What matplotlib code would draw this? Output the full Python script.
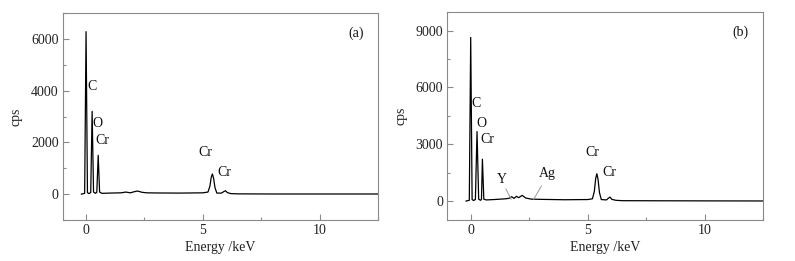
import matplotlib
matplotlib.use("Agg")
import matplotlib.pyplot as plt
from matplotlib.ticker import MultipleLocator

plt.rcParams['font.family'] = ['Liberation Serif', 'DejaVu Serif']

# Panel (a) spectrum
energy_a = [-0.2, -0.06, 0.0, 0.06, 0.12, 0.2, 0.26, 0.32, 0.4, 0.46, 0.52, 0.58, 0.68,
            1.0, 1.5, 1.7, 1.9, 2.05, 2.2, 2.4, 2.6, 3.0, 4.0, 5.0, 5.22, 5.3, 5.36, 5.41,
            5.46, 5.52, 5.6, 5.8, 5.9, 5.97, 6.05, 6.2, 6.5, 8.0, 10.0, 12.5]
cps_a = [0, 30, 6280, 60, 20, 60, 3200, 80, 30, 70, 1500, 80, 30,
         40, 50, 80, 50, 90, 120, 70, 50, 45, 40, 50, 80, 300, 650, 780,
         620, 250, 40, 40, 100, 130, 60, 20, 10, 5, 5, 5]

# Panel (b) spectrum
energy_b = [-0.2, -0.06, 0.0, 0.06, 0.12, 0.2, 0.27, 0.34, 0.42, 0.46, 0.5, 0.56, 0.66,
            1.0, 1.5, 1.65, 1.75, 1.85, 1.95, 2.05, 2.2, 2.35, 2.6, 3.0, 4.0, 5.0, 5.2,
            5.28, 5.34, 5.39, 5.44, 5.5, 5.58, 5.8, 5.88, 5.95, 6.03, 6.2, 6.5, 8.0,
            10.0, 12.5]
cps_b = [0, 40, 8640, 80, 30, 80, 3670, 100, 40, 90, 2210, 100, 60,
         80, 120, 150, 230, 140, 250, 180, 300, 160, 100, 90, 70, 80, 120,
         500, 1200, 1440, 1150, 450, 80, 60, 150, 210, 90, 40, 20, 15, 10, 5]

labels_a = ["C", "O", "Cr", "Cr", "Cr"]
lab_x_a = [0.26, 0.47, 0.71, 5.12, 5.9]
lab_y_a = [4170, 2730, 2090, 1610, 830]

labels_b = ["C", "O", "Cr", "Cr", "Cr"]
lab_x_b = [0.22, 0.47, 0.70, 5.19, 5.91]
lab_y_b = [5130, 4110, 3230, 2560, 1510]

fig = plt.figure(figsize=(7.95, 2.61), dpi=100)
W, H = 795, 261
ax_a = fig.add_axes([62.7 / W, 1 - 220 / H, (378 - 62.7) / W, (220 - 13) / H])
ax_b = fig.add_axes([447.3 / W, 1 - 220 / H, (763.3 - 447.3) / W, (220 - 11.7) / H])

spine_col = '#8a8a8a'
fs = 10


def style(ax, ymax, ymajor, yminor):
    ax.set_xlim(-1, 12.5)
    ax.set_ylim(-1000, ymax)
    ax.xaxis.set_major_locator(MultipleLocator(5))
    ax.xaxis.set_minor_locator(MultipleLocator(2.5))
    ax.yaxis.set_major_locator(MultipleLocator(ymajor))
    ax.yaxis.set_minor_locator(MultipleLocator(yminor))
    ax.tick_params(which='both', direction='in', colors=spine_col, labelcolor='#222222',
                   labelsize=fs, top=False, right=False)
    ax.tick_params(which='major', length=4, width=0.8, pad=3)
    ax.tick_params(which='minor', length=2.5, width=0.8)
    for s in ax.spines.values():
        s.set_color(spine_col)
        s.set_linewidth(0.8)
    ax.set_xlabel("Energy /keV", fontsize=fs, color='#222222', labelpad=3)
    ax.set_ylabel("cps", fontsize=fs, color='#222222', labelpad=6)


ax_a.plot(energy_a, cps_a, color='black', lw=0.9)
style(ax_a, 7000, 2000, 1000)
for t, x, y in zip(labels_a, lab_x_a, lab_y_a):
    ax_a.text(x, y, t, fontsize=fs, ha='center', va='center', color='#111111')
ax_a.text(11.55, 6230, "(a)", fontsize=fs, ha='center', va='center', color='#111111')

ax_b.plot(energy_b, cps_b, color='black', lw=0.9)
style(ax_b, 10000, 3000, 1500)
for t, x, y in zip(labels_b, lab_x_b, lab_y_b):
    ax_b.text(x, y, t, fontsize=fs, ha='center', va='center', color='#111111')
ax_b.text(1.34, 1120, "Y", fontsize=fs, ha='center', va='center', color='#111111')
ax_b.text(3.26, 1440, "Ag", fontsize=fs, ha='center', va='center', color='#111111')
leader = dict(arrowstyle='-', color='#9a9a9a', lw=0.7, shrinkA=0, shrinkB=0)
ax_b.annotate("", xy=(1.73, 90), xytext=(1.5, 650), arrowprops=leader)
ax_b.annotate("", xy=(2.69, 90), xytext=(3.02, 800), arrowprops=leader)
ax_b.text(11.53, 8900, "(b)", fontsize=fs, ha='center', va='center', color='#111111')

fig.savefig("out.png", dpi=100)
